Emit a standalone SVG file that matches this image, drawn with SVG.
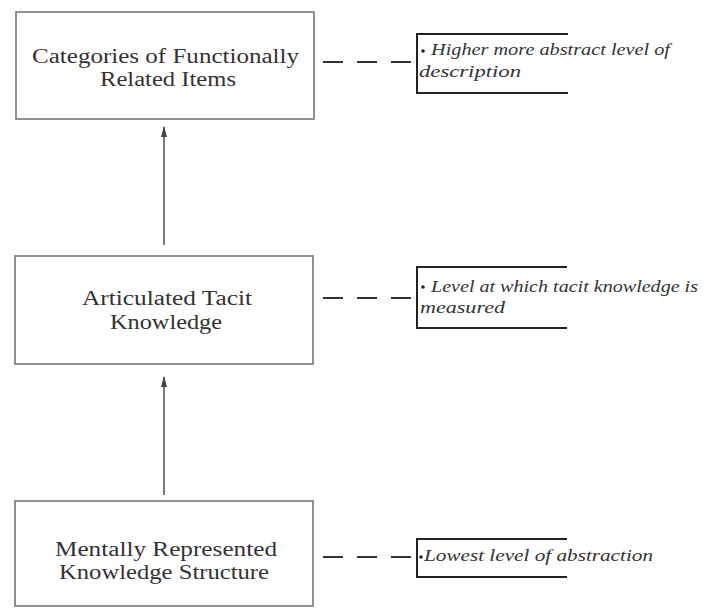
<svg xmlns="http://www.w3.org/2000/svg" width="709" height="609" viewBox="0 0 709 609">
<defs>
<style>
.box{fill:#fff;stroke:#777;stroke-width:1.6}
.bt{font-family:'Liberation Serif','Times New Roman',serif;font-size:20px;fill:#333;text-anchor:start}
.ct{font-family:'Liberation Serif','Times New Roman',serif;font-size:16px;font-style:italic;fill:#333}
.br{fill:none;stroke:#222;stroke-width:2}
.dash{stroke:#333;stroke-width:2;stroke-dasharray:20 14;fill:none}
.conn{stroke:#444;stroke-width:1.4;fill:none}
.ah{fill:#444}
</style>
</defs>
<rect width="709" height="609" fill="#fff"/>
<g id="connectors">
<line class="conn" x1="164" y1="245" x2="164" y2="127"/>
<path class="ah" d="M161,137 L164,126 L167,137 Z"/>
<line class="conn" x1="164" y1="495" x2="164" y2="377"/>
<path class="ah" d="M161,387 L164,376 L167,387 Z"/>
<line class="dash" x1="323" y1="62" x2="412" y2="62"/>
<line class="dash" x1="323" y1="298" x2="412" y2="298"/>
<line class="dash" x1="323" y1="557" x2="412" y2="557"/>
</g>
<g id="node1">
<rect class="box" x="16" y="12" width="298" height="107"/>
<text class="bt" x="32" y="63" textLength="267" lengthAdjust="spacingAndGlyphs">Categories of Functionally</text>
<text class="bt" x="100" y="86" textLength="136" lengthAdjust="spacingAndGlyphs">Related Items</text>
</g>
<g id="node2">
<rect class="box" x="15" y="256" width="298" height="108"/>
<text class="bt" x="82" y="305" textLength="170" lengthAdjust="spacingAndGlyphs">Articulated Tacit</text>
<text class="bt" x="110" y="329" textLength="112" lengthAdjust="spacingAndGlyphs">Knowledge</text>
</g>
<g id="node3">
<rect class="box" x="15" y="501" width="298" height="105"/>
<text class="bt" x="55" y="556" textLength="222" lengthAdjust="spacingAndGlyphs">Mentally Represented</text>
<text class="bt" x="59" y="579" textLength="210" lengthAdjust="spacingAndGlyphs">Knowledge Structure</text>
</g>
<g id="note1">
<path class="br" d="M568,34 H417 V93 H568"/>
<circle cx="423" cy="51" r="1.8" fill="#222"/>
<text class="ct" x="431" y="55" textLength="239" lengthAdjust="spacingAndGlyphs">Higher more abstract level of</text>
<text class="ct" x="419" y="77" textLength="102" lengthAdjust="spacingAndGlyphs">description</text>
</g>
<g id="note2">
<path class="br" d="M567,267 H417 V328 H567"/>
<circle cx="423" cy="287" r="1.8" fill="#222"/>
<text class="ct" x="431" y="292" textLength="267" lengthAdjust="spacingAndGlyphs">Level at which tacit knowledge is</text>
<text class="ct" x="420" y="313" textLength="85" lengthAdjust="spacingAndGlyphs">measured</text>
</g>
<g id="note3">
<path class="br" d="M567,539 H417 V577 H567"/>
<circle cx="421" cy="557" r="1.8" fill="#222"/>
<text class="ct" x="424" y="561" textLength="229" lengthAdjust="spacingAndGlyphs">Lowest level of abstraction</text>
</g>
</svg>
